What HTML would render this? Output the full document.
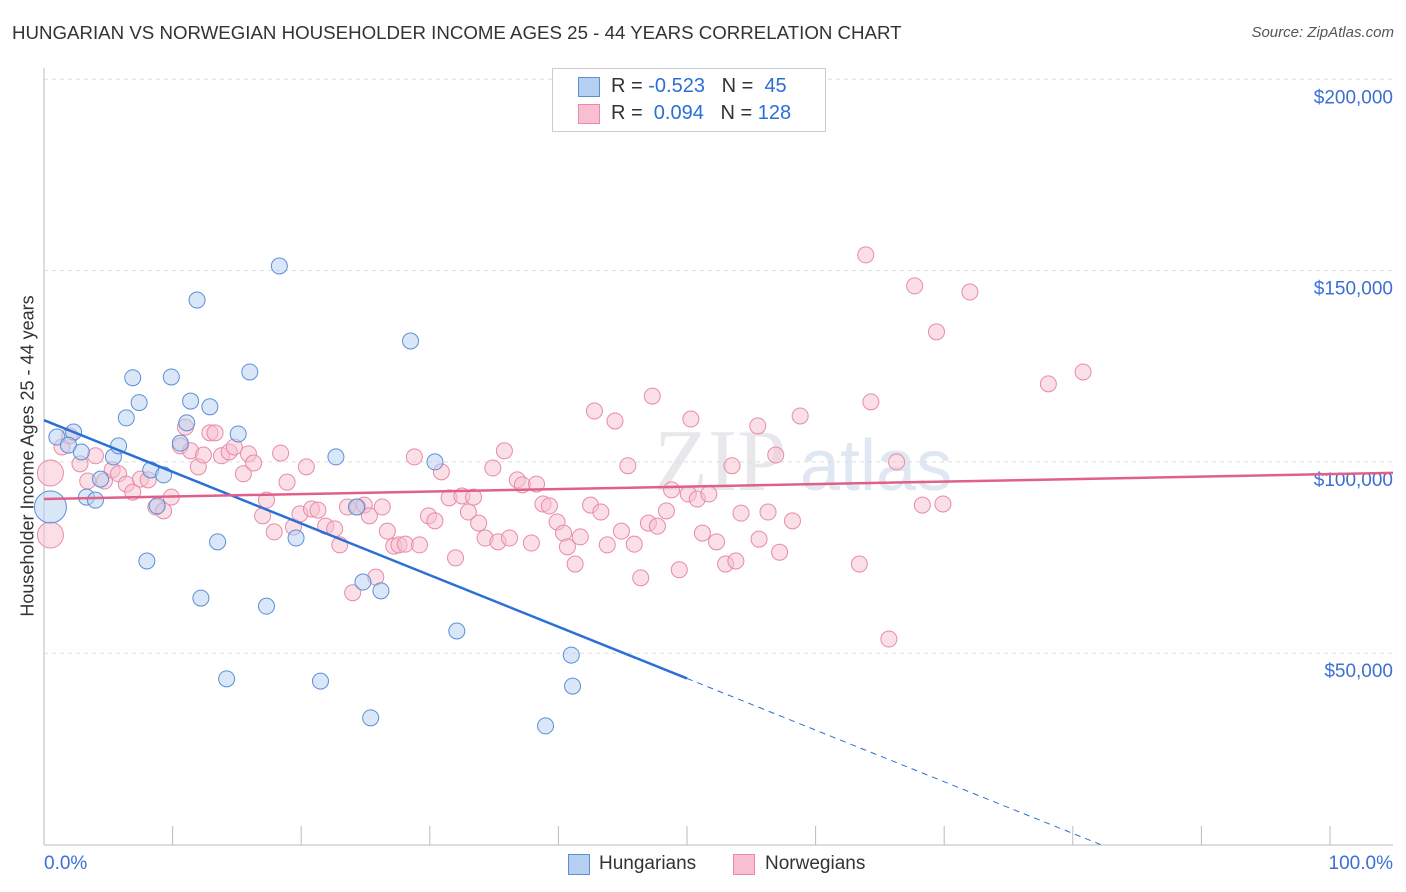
<!DOCTYPE html>
<html><head><meta charset="utf-8"><style>
body{margin:0;background:#fff;font-family:"Liberation Sans",sans-serif;}
#c{position:relative;width:1406px;height:892px;overflow:hidden}
.t{position:absolute;white-space:nowrap}
</style></head><body>
<div id="c">
<div class="t" style="left:12px;top:22px;font-size:18.7px;color:#333">HUNGARIAN VS NORWEGIAN HOUSEHOLDER INCOME AGES 25 - 44 YEARS CORRELATION CHART</div>
<div class="t" style="right:12px;top:24px;font-size:15px;color:#555;font-style:italic">Source: ZipAtlas.com</div>
<svg id="s" width="1406" height="892" style="position:absolute;left:0;top:0"></svg>
</div>
<script>
const hunX=[0.5,1.0,2.3,1.9,2.9,3.3,4.0,4.4,5.4,5.8,6.4,6.9,7.4,8.0,8.3,8.8,9.3,9.9,10.6,11.1,11.4,11.9,12.2,12.9,13.5,14.2,15.1,16.0,17.3,18.3,19.6,21.5,22.7,24.3,24.8,25.4,26.2,28.5,30.4,32.1,39.0,41.0,41.1];
const hunY=[88.2,106.5,107.8,104.4,102.6,90.8,90.0,95.5,101.3,104.2,111.5,122.0,115.5,74.1,97.9,88.5,96.6,122.2,104.9,110.2,115.9,142.3,64.4,114.4,79.1,43.3,107.3,123.5,62.3,151.2,80.1,42.7,101.3,88.2,68.6,33.1,66.3,131.6,100.0,55.8,31.0,49.5,41.4];
const norX=[0.5,0.5,1.4,2.0,2.8,3.4,4.0,4.7,5.3,5.8,6.4,6.9,7.5,8.1,8.7,9.3,9.9,10.6,11.0,11.4,12.0,12.4,12.9,13.3,13.8,14.4,14.8,15.5,15.9,16.3,17.0,17.3,17.9,18.4,18.9,19.4,19.9,20.4,20.8,21.3,21.9,22.6,23.0,23.6,24.0,24.4,24.9,25.3,25.8,26.3,26.7,27.2,27.6,28.1,28.8,29.2,29.9,30.4,30.9,31.5,32.0,32.5,33.0,33.4,33.8,34.3,34.9,35.3,35.8,36.2,36.8,37.2,37.9,38.3,38.8,39.3,39.9,40.4,40.7,41.3,41.7,42.5,42.8,43.3,43.8,44.4,44.9,45.4,45.9,46.4,47.0,47.3,47.7,48.4,48.8,49.4,50.1,50.3,50.8,51.2,51.7,52.3,53.0,53.5,53.8,54.2,55.5,55.6,56.3,56.9,57.2,58.2,58.8,63.4,63.9,64.3,65.7,66.3,67.7,68.3,69.4,69.9,72.0,78.1,80.8];
const norY=[97.1,80.9,103.9,106.8,99.5,95.0,101.6,95.0,97.9,96.9,94.2,92.1,95.5,95.3,88.2,87.2,90.8,104.2,109.1,102.9,98.7,101.8,107.6,107.6,101.6,102.6,103.9,96.9,102.1,99.7,85.9,90.0,81.7,102.3,94.7,83.0,86.4,98.7,87.7,87.4,83.2,82.5,78.3,88.2,65.8,88.2,88.7,85.9,69.9,88.2,81.9,78.0,78.3,78.5,101.3,78.3,85.9,84.6,97.4,90.6,74.9,91.1,86.9,90.8,84.0,80.1,98.4,79.1,102.9,80.1,95.3,94.0,78.8,94.2,89.0,88.5,84.3,81.4,77.8,73.3,80.4,88.7,113.3,86.9,78.3,110.7,81.9,99.0,78.5,69.7,84.0,117.2,83.2,87.2,92.7,71.8,91.6,111.2,90.3,81.4,91.6,79.1,73.3,99.0,74.1,86.6,109.4,79.8,86.9,101.8,76.4,84.6,112.0,73.3,154.1,115.7,53.7,100.0,146.0,88.7,134.0,89.0,144.4,120.4,123.5];
const yTicks=[50,100,150,200];
const yTickLabels=["$50,000","$100,000","$150,000","$200,000"];
const hunTrend=[110.9,-1.35];
const norTrend=[90.3,0.065];
const X=p=>44+p*12.86, Y=v=>844.5-v*3.826;
const s=document.getElementById('s');const NS='http://www.w3.org/2000/svg';
function mk(t,a){const e=document.createElementNS(NS,t);for(const k in a)e.setAttribute(k,a[k]);s.appendChild(e);return e;}
let w=mk('text',{x:720,y:490,'text-anchor':'middle','font-size':88,fill:'#e8e8ec','font-family':'Liberation Serif'});w.textContent='ZIP';


let w2=mk('text',{x:800,y:490,'font-size':72,fill:'#dfe7f3','font-family':'Liberation Sans'});w2.textContent='atlas';


yTicks.forEach((v,i)=>{const g=mk('line',{x1:44,x2:1393,y1:Y(v),y2:Y(v),stroke:'#ddd','stroke-dasharray':'4,4'});


const t=mk('text',{x:1393,y:Y(v)+24,'text-anchor':'end','font-size':19,fill:'#3b6fd4'});t.textContent=yTickLabels[i];

});
let ax=mk('line',{x1:44,x2:44,y1:68,y2:845,stroke:'#bbb'});


let bx=mk('line',{x1:44,x2:1393,y1:845,y2:845,stroke:'#bbb'});


for(let i=0;i<=10;i++){const k=mk('line',{x1:X(i*10),x2:X(i*10),y1:826,y2:845,stroke:'#bbb'});

}
function dots(xs,ys,fill,stroke,nm){xs.forEach((x,i)=>{const big=i<(nm=='hungarian'?1:2)&&x<1;const c=mk('circle',{cx:X(x),cy:Y(ys[i]),r:big?(nm=='hungarian'?16:13):8,fill:fill,'fill-opacity':0.5,stroke:stroke,'stroke-width':1});

});}
dots(norX,norY,'#f7bfd0','#e88aa8','norwegian');
dots(hunX,hunY,'#b5cff2','#5b8fd6','hungarian');
const z=-hunTrend[0]/hunTrend[1];
let l1=mk('line',{x1:X(0),y1:Y(hunTrend[0]),x2:X(50),y2:Y(hunTrend[0]+hunTrend[1]*50),stroke:'#2b6fd6','stroke-width':2.5});


let l2=mk('line',{x1:X(50),y1:Y(hunTrend[0]+hunTrend[1]*50),x2:X(z),y2:Y(0),stroke:'#2b6fd6','stroke-width':1,'stroke-dasharray':'6,5'});


let l3=mk('line',{x1:X(0),y1:Y(norTrend[0]),x2:1393,y2:Y(norTrend[0]+norTrend[1]*104.9),stroke:'#e0608a','stroke-width':2.5});


</script>
<div class="t" style="left:44px;top:853px;font-size:19px;color:#3b6fd4">0.0%</div>
<div class="t" style="right:13px;top:853px;font-size:19px;color:#3b6fd4">100.0%</div>
<div class="t" style="left:28px;top:456px;font-size:18px;color:#333;transform:translate(-50%,-50%) rotate(-90deg)">Householder Income Ages 25 - 44 years</div>
<div style="position:absolute;left:552px;top:68px;width:272px;height:62px;border:1px solid #ccc;background:#fff;font-size:20px">
<div style="position:absolute;left:25px;top:8px;width:20px;height:18px;background:#b5cff2;border:1px solid #5b8fd6"></div>
<div class="t" style="left:58px;top:6px;color:#333">R = <span style="color:#2b6fd6">-0.523</span>&nbsp;&nbsp;&nbsp;N = &nbsp;<span style="color:#2b6fd6">45</span></div>
<div style="position:absolute;left:25px;top:35px;width:20px;height:18px;background:#f7bfd0;border:1px solid #e88aa8"></div>
<div class="t" style="left:58px;top:33px;color:#333">R = &nbsp;<span style="color:#2b6fd6">0.094</span>&nbsp;&nbsp;&nbsp;N = <span style="color:#2b6fd6">128</span></div>
</div>
<div style="position:absolute;left:568px;top:854px;width:20px;height:19px;background:#b5cff2;border:1px solid #5b8fd6"></div>
<div class="t" style="left:599px;top:853px;font-size:19px;color:#333">Hungarians</div>
<div style="position:absolute;left:733px;top:854px;width:20px;height:19px;background:#f7bfd0;border:1px solid #e88aa8"></div>
<div class="t" style="left:765px;top:853px;font-size:19px;color:#333">Norwegians</div>
</body></html>
